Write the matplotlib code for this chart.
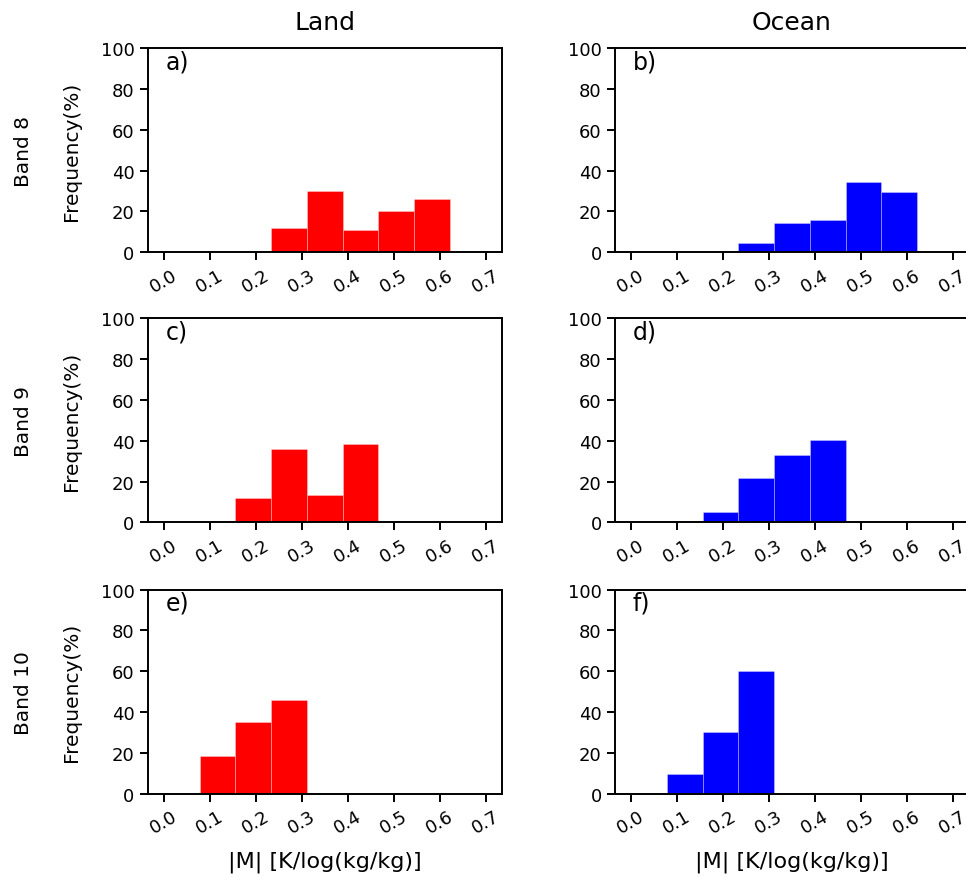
import matplotlib
matplotlib.use("Agg")
import matplotlib.pyplot as plt
import numpy as np

# histogram bins over |M|
bin_edges = np.linspace(0.0, 0.7, 10)

# frequency (%) per bin, land / ocean, bands 8, 9, 10
land_b8 = [0, 0, 0, 12.0, 29.9, 10.8, 20.1, 26.3, 0]
ocean_b8 = [0, 0, 0, 4.5, 14.4, 16.0, 34.6, 29.6, 0]
land_b9 = [0, 0, 12.1, 35.9, 13.6, 38.6, 0, 0, 0]
ocean_b9 = [0, 0, 5.0, 21.8, 33.0, 40.4, 0, 0, 0]
land_b10 = [0, 18.3, 34.9, 46.0, 0, 0, 0, 0, 0]
ocean_b10 = [0, 9.5, 30.1, 60.0, 0, 0, 0, 0, 0]

bands = ["Band 8", "Band 9", "Band 10"]
columns = ["Land", "Ocean"]
panel_tags = [["a)", "b)"], ["c)", "d)"], ["e)", "f)"]]
values = [[land_b8, ocean_b8], [land_b9, ocean_b9], [land_b10, ocean_b10]]
colors = ["red", "blue"]
xticks = [0.0, 0.1, 0.2, 0.3, 0.4, 0.5, 0.6, 0.7]
yticks = [0, 20, 40, 60, 80, 100]

fig = plt.figure(figsize=(9.66, 8.78), dpi=100)

lefts = [0.1529, 0.6366]
bottoms = [0.7115, 0.4038, 0.0949]
w, h = 0.3665, 0.2324

for i in range(3):
    for j in range(2):
        ax = fig.add_axes([lefts[j], bottoms[i], w, h])
        ax.bar(bin_edges[:-1], values[i][j], width=np.diff(bin_edges), align="edge",
               color=colors[j], edgecolor=(1, 1, 1, 0.35), linewidth=0.6)
        ax.set_xlim(-0.035, 0.735)
        ax.set_ylim(0, 100)
        ax.set_xticks(xticks)
        ax.set_xticklabels(["%.1f" % t for t in xticks], rotation=30)
        ax.set_yticks(yticks)
        ax.tick_params(labelsize=13, length=6, width=1.4, direction="out")
        for sp in ax.spines.values():
            sp.set_linewidth(1.4)
        ax.text(0.05, 0.995, panel_tags[i][j], transform=ax.transAxes,
                fontsize=17, va="top", ha="left")
        if i == 0:
            ax.set_title(columns[j], fontsize=18, pad=14)
        if i == 2:
            ax.set_xlabel("|M| [K/log(kg/kg)]", fontsize=16, labelpad=10)
        if j == 0:
            ax.set_ylabel("Frequency(%)", fontsize=14.5, labelpad=14)
            fig.text(0.024, bottoms[i] + h / 2, bands[i], rotation=90,
                     fontsize=14.5, va="center", ha="center")

fig.savefig("out.png", dpi=100)
